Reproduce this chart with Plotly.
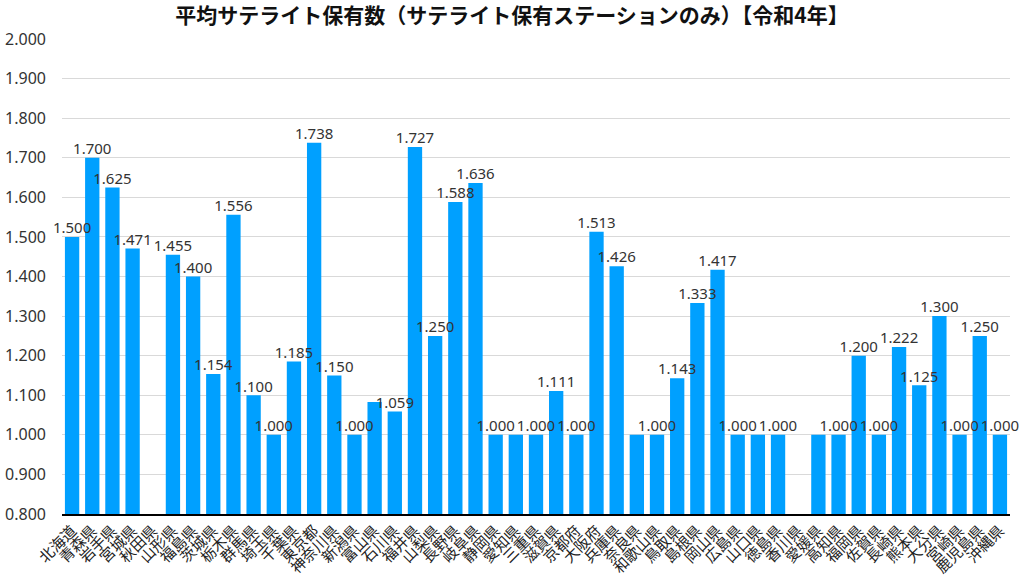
import plotly.graph_objects as go

prefectures = ["北海道", "青森県", "岩手県", "宮城県", "秋田県", "山形県", "福島県", "茨城県", "栃木県", "群馬県",
               "埼玉県", "千葉県", "東京都", "神奈川県", "新潟県", "富山県", "石川県", "福井県", "山梨県", "長野県",
               "岐阜県", "静岡県", "愛知県", "三重県", "滋賀県", "京都府", "大阪府", "兵庫県", "奈良県", "和歌山県",
               "鳥取県", "島根県", "岡山県", "広島県", "山口県", "徳島県", "香川県", "愛媛県", "高知県", "福岡県",
               "佐賀県", "長崎県", "熊本県", "大分県", "宮崎県", "鹿児島県", "沖縄県"]

avg_satellites = [1.500, 1.700, 1.625, 1.471, None, 1.455, 1.400, 1.154, 1.556, 1.100,
                  1.000, 1.185, 1.738, 1.150, 1.000, 1.083, 1.059, 1.727, 1.250, 1.588,
                  1.636, 1.000, 1.000, 1.000, 1.111, 1.000, 1.513, 1.426, 1.000, 1.000,
                  1.143, 1.333, 1.417, 1.000, 1.000, 1.000, None, 1.000, 1.000, 1.200,
                  1.000, 1.222, 1.125, 1.300, 1.000, 1.250, 1.000]

# data labels not displayed in the original chart
hidden_labels = ["富山県", "愛知県", "奈良県", "山口県", "愛媛県"]

lab_x = [p for p, v in zip(prefectures, avg_satellites) if v is not None and p not in hidden_labels]
lab_y = [v for p, v in zip(prefectures, avg_satellites) if v is not None and p not in hidden_labels]
lab_text = [f"{v:.3f}" for v in lab_y]

y_ticks = [0.8 + 0.1 * i for i in range(13)]
y_tick_labels = [f"{t:.3f}" for t in y_ticks]

num_font = "Noto Sans, Noto Sans CJK JP, sans-serif"
jp_font = "Noto Sans CJK JP, sans-serif"

fig = go.Figure()
fig.add_trace(go.Bar(
    x=prefectures, y=avg_satellites,
    marker=dict(color="#00A0FF", line=dict(width=0)),
    hoverinfo="x+y",
))
fig.add_trace(go.Scatter(
    x=lab_x, y=lab_y, mode="text", text=lab_text,
    textposition="top center",
    textfont=dict(family=num_font, size=15, color="#333333"),
    cliponaxis=False, hoverinfo="skip",
))

fig.update_layout(
    width=1024, height=584,
    margin=dict(l=62, r=14, t=39, b=70),
    paper_bgcolor="white", plot_bgcolor="white",
    showlegend=False,
    bargap=0.29,
    title=dict(text="<b>平均サテライト保有数（サテライト保有ステーションのみ）【令和4年】</b>",
               x=0.5, xanchor="center", y=0.973, yanchor="middle",
               font=dict(family=jp_font, size=21, color="#111111")),
    xaxis=dict(
        type="category", tickangle=-45, automargin=False,
        categoryorder="array", categoryarray=prefectures,
        range=[-0.5, len(prefectures) - 0.5],
        tickfont=dict(family=jp_font, size=15, color="#222222"),
        showline=True, linecolor="#000000", linewidth=2,
        showgrid=False, ticks="",
    ),
    yaxis=dict(
        range=[0.8, 2.0], tickvals=y_ticks, ticktext=y_tick_labels, automargin=False,
        tickfont=dict(family=num_font, size=16, color="#333333"),
        showgrid=True, gridcolor="#d9d9d9", gridwidth=1,
        zeroline=False, showline=False, ticks="",
        ticklabelstandoff=15,
    ),
)

fig.write_html("out.html", config={"displayModeBar": False},
               post_script="document.body.style.margin='0';")
